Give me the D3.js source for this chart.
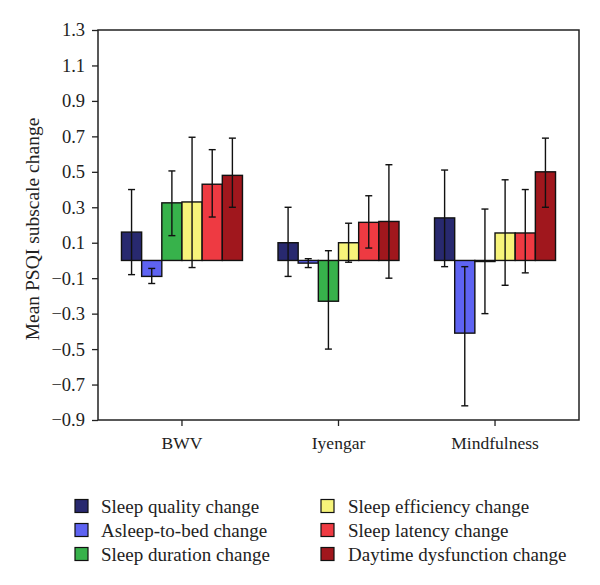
<!DOCTYPE html>
<html>
<head>
<meta charset="utf-8">
<script src="https://cdn.jsdelivr.net/npm/d3@7"></script>
<style>
  html, body { margin: 0; padding: 0; background: #fff; }
  svg { display: block; }
  text { font-family: "Liberation Serif", "DejaVu Serif", serif; fill: #222; }
</style>
</head>
<body>
<svg id="chart" width="600" height="585"></svg>
<script>
// ---- data ----
const groups = ["BWV", "Iyengar", "Mindfulness"];
const series = ["Sleep quality change", "Asleep-to-bed change", "Sleep duration change",
                "Sleep efficiency change", "Sleep latency change", "Daytime dysfunction change"];
const colors = ["#28296f", "#5e63f2", "#37b24b", "#f7f47a", "#ee3a42", "#a0171d"];
// mean values per series, order of groups
const sleepQuality   = [0.16, 0.10, 0.24];
const asleepToBed    = [-0.09, -0.015, -0.41];
const sleepDuration  = [0.325, -0.23, -0.006];
const sleepEfficiency= [0.33, 0.10, 0.155];
const sleepLatency   = [0.43, 0.215, 0.155];
const daytimeDysfx   = [0.48, 0.22, 0.50];
// error bar bounds (low, high)
const errLow  = [[-0.08, -0.09, -0.035], [-0.13, -0.04, -0.82], [0.14, -0.50, -0.30],
                 [-0.04, -0.01, -0.14], [0.245, 0.07, -0.07], [0.30, -0.10, 0.30]];
const errHigh = [[0.40, 0.30, 0.51], [-0.045, 0.01, -0.035], [0.505, 0.055, 0.29],
                 [0.695, 0.21, 0.455], [0.625, 0.365, 0.40], [0.69, 0.54, 0.69]];
const yTicks = [1.3, 1.1, 0.9, 0.7, 0.5, 0.3, 0.1, -0.1, -0.3, -0.5, -0.7, -0.9];
const yTitle = "Mean PSQI subscale change";

const means = [sleepQuality, asleepToBed, sleepDuration, sleepEfficiency, sleepLatency, daytimeDysfx];

// ---- layout ----
const svg = d3.select("#chart");
const pLeft = 98, pRight = 579, pTop = 30, pBottom = 420;

const y = d3.scaleLinear().domain([-0.9, 1.3]).range([pBottom, pTop]);
const x = d3.scaleBand().domain(groups).range([pLeft, pRight]).paddingInner(0.227).paddingOuter(0.15);
const xs = d3.scaleBand().domain(series).range([0, x.bandwidth()]).padding(0);

// frame
svg.append("rect")
  .attr("x", pLeft).attr("y", pTop)
  .attr("width", pRight - pLeft).attr("height", pBottom - pTop)
  .attr("fill", "none").attr("stroke", "#222").attr("stroke-width", 1.5);

// bars
const data = [];
groups.forEach((g, gi) => {
  series.forEach((s, si) => {
    data.push({ g, s, si, v: means[si][gi], lo: errLow[si][gi], hi: errHigh[si][gi] });
  });
});

const gBars = svg.append("g");
gBars.selectAll("rect").data(data).join("rect")
  .attr("x", d => x(d.g) + xs(d.s))
  .attr("width", xs.bandwidth())
  .attr("y", d => Math.min(y(d.v), y(0)))
  .attr("height", d => Math.abs(y(d.v) - y(0)))
  .attr("fill", d => colors[d.si])
  .attr("stroke", "#111").attr("stroke-width", 1.4);

// error bars
const cap = 3.5;
const gErr = svg.append("g").attr("stroke", "#111").attr("stroke-width", 1.4);
data.forEach(d => {
  const cx = x(d.g) + xs(d.s) + xs.bandwidth() / 2;
  gErr.append("line").attr("x1", cx).attr("x2", cx).attr("y1", y(d.lo)).attr("y2", y(d.hi));
  gErr.append("line").attr("x1", cx - cap).attr("x2", cx + cap).attr("y1", y(d.lo)).attr("y2", y(d.lo));
  gErr.append("line").attr("x1", cx - cap).attr("x2", cx + cap).attr("y1", y(d.hi)).attr("y2", y(d.hi));
});

// y axis
const yAxis = d3.axisLeft(y).tickValues(yTicks).tickSize(6).tickPadding(7)
  .tickFormat(d => d < 0 ? "\u2212" + Math.abs(d).toFixed(1) : d.toFixed(1));
const gy = svg.append("g").attr("transform", `translate(${pLeft},0)`).call(yAxis);
gy.select(".domain").remove();
gy.selectAll("line").attr("stroke", "#222").attr("stroke-width", 1.3);
gy.selectAll("text").style("font-size", "18.5px").attr("fill", "#222");

// x axis
const xAxis = d3.axisBottom(x).tickSize(6).tickPadding(11);
const gx = svg.append("g").attr("transform", `translate(0,${pBottom})`).call(xAxis);
gx.select(".domain").remove();
gx.selectAll("line").attr("stroke", "#222").attr("stroke-width", 1.3);
gx.selectAll("text").style("font-size", "17.5px").attr("fill", "#222");

// y title
svg.append("text")
  .attr("transform", `translate(39,229) rotate(-90)`)
  .attr("text-anchor", "middle")
  .style("font-size", "19.5px")
  .text(yTitle);

// legend
const legCols = [{ sx: 75, tx: 101 }, { sx: 321, tx: 348 }];
const legRows = [506, 530, 554];
series.forEach((s, i) => {
  const c = legCols[Math.floor(i / 3)];
  const ry = legRows[i % 3];
  svg.append("rect").attr("x", c.sx).attr("y", ry - 6.5).attr("width", 13).attr("height", 13)
    .attr("fill", colors[i]).attr("stroke", "#111").attr("stroke-width", 1.2);
  svg.append("text").attr("x", c.tx).attr("y", ry).attr("dy", "0.35em")
    .style("font-size", "19px").text(s);
});
</script>
</body>
</html>
